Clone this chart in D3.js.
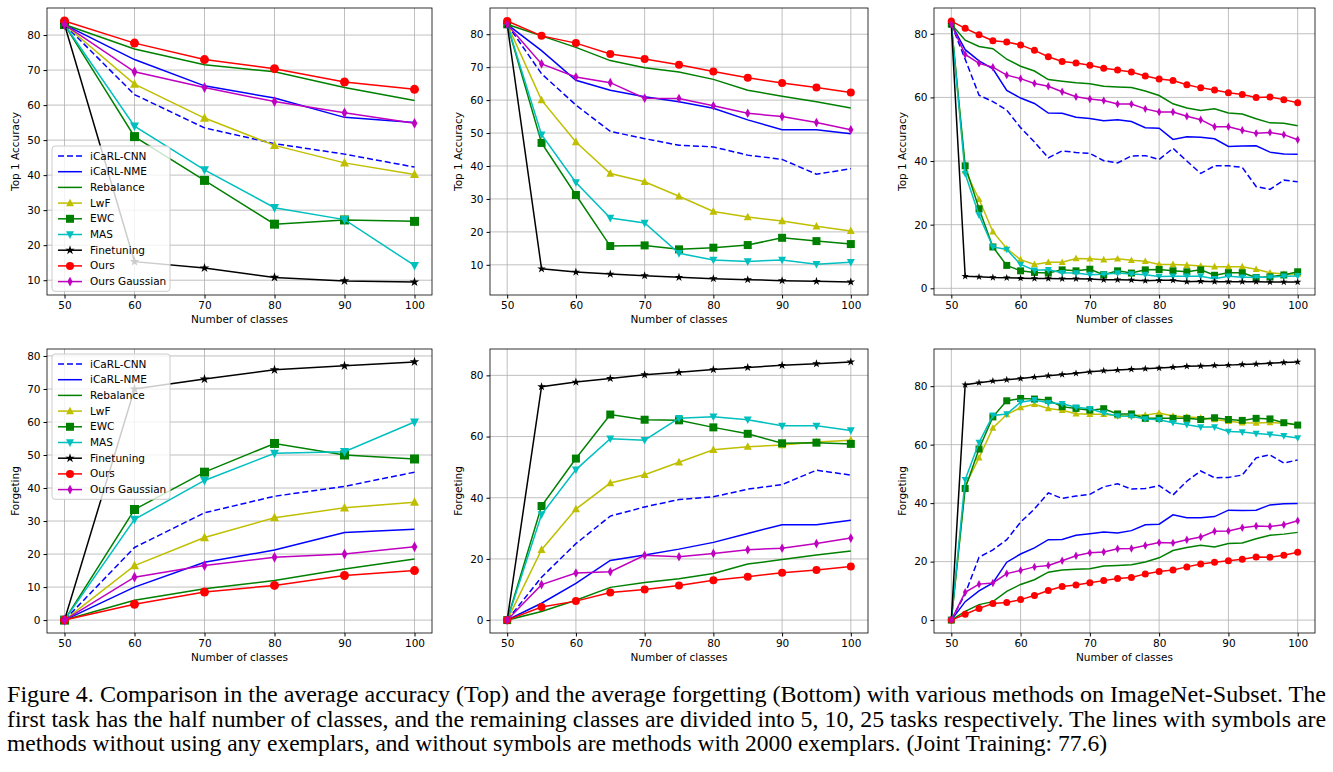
<!DOCTYPE html>
<html>
<head>
<meta charset="utf-8">
<script src="https://cdn.jsdelivr.net/npm/d3@7"></script>
<style>
body { margin: 0; background: #fff; }
text { font-family: "DejaVu Sans", sans-serif; }
.caption { font-family: "Liberation Serif", serif; font-size: 23px; }
</style>
</head>
<body>
<svg id="chart" width="1333" height="772"></svg>
<script>
// method names, in plotting order
const methods = ["iCaRL-CNN", "iCaRL-NME", "Rebalance", "LwF", "EWC", "MAS", "Finetuning", "Ours", "Ours Gaussian"];

const x5 = [50, 60, 70, 80, 90, 100];
const x10 = [50, 55, 60, 65, 70, 75, 80, 85, 90, 95, 100];
const x25 = d3.range(50, 101, 2);

// Top 1 accuracy, 5 tasks
const acc5 = [
  [83, 63, 53.5, 49, 46, 42.3],
  [83, 73, 65.5, 62, 56.5, 55],
  [83, 76, 71.5, 69.5, 65, 61.3],
  [83, 66, 56.3, 48.5, 43.5, 40.2],
  [83, 51, 38.5, 26, 27.2, 26.8],
  [83, 54, 41.5, 30.7, 27.3, 14.2],
  [83, 15.3, 13.5, 10.8, 9.8, 9.5],
  [84, 77.7, 73, 70.4, 66.6, 64.5],
  [83, 69.5, 65, 61, 57.8, 54.8]
];
// Top 1 accuracy, 10 tasks
const acc10 = [
  [83, 68, 58.5, 50.5, 48.3, 46.3, 45.8, 43.3, 42, 37.5, 39.2],
  [83, 75, 66, 63, 61, 59.5, 57.5, 54, 51, 51, 49.8],
  [83, 79.5, 76, 72, 69.8, 68.5, 66.3, 63, 61.2, 59.5, 57.6],
  [83, 60, 47.3, 37.7, 35.2, 30.8, 26.2, 24.5, 23.3, 21.7, 20.3],
  [83, 47, 31.2, 15.7, 15.9, 14.7, 15.2, 16, 18.2, 17.2, 16.3],
  [83, 49.5, 35, 24.2, 22.7, 13.5, 11.5, 11, 11.5, 10.2, 10.8],
  [83, 8.8, 7.8, 7.2, 6.7, 6.2, 5.8, 5.5, 5.2, 5, 4.8],
  [84, 79.5, 77.3, 74, 72.5, 70.7, 68.7, 66.8, 65.2, 63.8, 62.3],
  [83, 71, 67, 65.3, 60.6, 60.5, 58.3, 56, 55, 53.2, 51]
];
// Top 1 accuracy, 25 tasks
const acc25 = [
  [83, 72, 60.7, 58.7, 56, 50.5, 46, 41, 43.2, 42.7, 42.4, 40.1, 39.4, 41.6, 41.7, 40.5, 44, 40, 36.1, 38.5, 38.5, 38, 32, 31.1, 34, 33.5],
  [83, 75, 71.5, 69, 62.2, 59.8, 58.1, 55.1, 55, 53.8, 53.4, 52.7, 53, 52.4, 50.5, 50.3, 46.8, 47.6, 47.5, 47, 44.6, 44.7, 44.8, 42.8, 42.2, 42.1],
  [83, 78, 76, 75.3, 72, 69.8, 68.3, 65.6, 65.1, 64.6, 64.3, 63.5, 63.3, 63.1, 62, 60.6, 58, 56.7, 55.9, 56.4, 55.1, 54.8, 53.3, 52, 51.9, 51.1],
  [83, 37, 28, 17.8, 12.5, 9, 7.5, 8.2, 8.2, 9.4, 9.3, 9, 9.3, 8.8, 8.5, 7.5, 7.5, 7.3, 7, 6.8, 6.8, 6.8, 6, 4.9, 4.5, 4.5],
  [83, 38.5, 25, 13, 7.2, 5.5, 5, 4.8, 5.8, 5.5, 6, 4.3, 5.5, 4.8, 5.8, 5.9, 5.5, 5.2, 5.8, 4.1, 4.9, 4.9, 3.4, 3.6, 4.2, 5.2],
  [83, 36, 23, 13, 12.2, 7.5, 5.7, 5.8, 4.9, 4.8, 4.3, 4.4, 4.8, 4.5, 4.3, 3.7, 3.8, 3.8, 3.8, 3, 3.8, 3.5, 3.5, 3.5, 3.8, 3.9],
  [83, 3.8, 3.6, 3.4, 3.3, 3.2, 3.1, 3.1, 3, 3, 2.9, 2.7, 2.7, 2.6, 2.4, 2.5, 2.5, 2.1, 2.2, 2.1, 2.1, 2.1, 2.1, 2, 2, 2],
  [84, 81.7, 79.7, 77.8, 77.4, 76.5, 74.8, 72.8, 71.3, 70.8, 70.1, 69.2, 68.6, 68, 66.7, 65.8, 65.3, 64, 63, 62.3, 61.5, 60.9, 60, 60.1, 59.3, 58.3],
  [83, 73.5, 70.7, 69.5, 67, 65.9, 64.4, 63.5, 61.8, 60.2, 59.5, 59, 57.9, 57.9, 56.4, 55.4, 55.4, 54.1, 53, 50.8, 50.8, 49.7, 48.7, 49, 48.3, 46.7]
];
// Forgetting, 5 tasks
const fgt5 = [
  [0, 22, 32.5, 37.5, 40.5, 44.8],
  [0, 10, 17.5, 21.2, 26.5, 27.5],
  [0, 6, 9.5, 12, 15.5, 18.5],
  [0, 16.5, 25, 31, 34, 35.7],
  [0, 33.5, 44.8, 53.5, 50, 48.8],
  [0, 30.5, 42.3, 50.5, 51, 60],
  [0, 70, 73, 75.8, 77, 78.2],
  [0, 4.8, 8.5, 10.5, 13.5, 15],
  [0, 13, 16.5, 19, 20, 22.2]
];
// Forgetting, 10 tasks
const fgt10 = [
  [0, 14, 25, 34, 37, 39.4, 40.3, 42.8, 44.3, 49, 47.4],
  [0, 5.5, 12, 19.5, 21.3, 23.2, 25.4, 28.3, 31.2, 31.2, 32.6],
  [0, 2.8, 6.5, 10.7, 12.3, 13.5, 15.2, 18.3, 19.8, 21.3, 22.6],
  [0, 23, 36.3, 44.8, 47.5, 51.6, 55.7, 56.7, 57.2, 58.2, 58.8],
  [0, 37.3, 52.8, 67.2, 65.5, 65.3, 63, 60.9, 57.8, 58, 57.6],
  [0, 34.5, 49.2, 59.3, 58.8, 66, 66.5, 65.5, 63.5, 63.5, 62],
  [0, 76.3, 77.8, 79, 80.2, 81, 81.9, 82.6, 83.3, 83.8, 84.4],
  [0, 4.3, 6.2, 9, 10, 11.3, 13, 14.2, 15.5, 16.4, 17.5],
  [0, 11.6, 15.4, 15.8, 21.2, 20.7, 21.8, 23, 23.5, 25, 26.8]
];
// Forgetting, 25 tasks
const fgt25 = [
  [0, 9, 21.5, 24, 27.5, 33.5, 38, 43.5, 41.6, 42.4, 43, 45.6, 46.6, 44.8, 45, 46, 42.8, 47.5, 51, 48.7, 48.8, 49.6, 55.5, 56.5, 53.7, 54.8],
  [0, 6.3, 10, 12.7, 19.8, 22.6, 24.7, 27.5, 27.6, 29, 29.5, 30.1, 29.8, 30.6, 32.6, 32.8, 36, 35, 35, 35.4, 37.6, 37.5, 37.6, 39.4, 39.8, 39.9],
  [0, 3, 5.3, 6.3, 9.8, 12.2, 13.8, 16.4, 17.1, 17.4, 17.6, 18.5, 18.7, 18.9, 19.9, 21.3, 23.8, 24.8, 25.6, 25, 26.2, 26.4, 27.8, 29, 29.4, 30],
  [0, 46, 55.5, 65.7, 70.3, 72.7, 73.8, 72.4, 71.8, 70.6, 70.4, 70.4, 69.9, 70, 70.1, 70.8, 69.8, 69.5, 69.2, 68.6, 68, 67.5, 67.4, 67.6, 67.3, 66.8],
  [0, 45, 58.5, 69.5, 75, 75.8, 75.6, 75.2, 73, 72.4, 71.8, 72.3, 70.5, 70.5, 69, 69, 69, 69, 68.6, 69.2, 68.6, 68.3, 69, 68.8, 67.5, 66.7],
  [0, 48, 60.7, 70, 70.5, 74.5, 75.3, 74.3, 74, 72.8, 72.3, 70.8, 69.8, 69.7, 68.8, 68.5, 67.5, 66.8, 66, 66, 64.5, 64.3, 63.8, 63.5, 63, 62.3],
  [0, 80.5, 81.2, 81.8, 82.2, 82.6, 83.1, 83.6, 84, 84.4, 84.9, 85.3, 85.5, 85.8, 86, 86.2, 86.5, 86.8, 86.9, 87.1, 87.2, 87.4, 87.6, 87.8, 88.1, 88.3],
  [0, 2, 4, 5.7, 6, 7, 8.4, 10.1, 11.5, 12, 12.8, 13.5, 14.2, 14.6, 15.8, 16.6, 17.1, 18.2, 19.2, 19.8, 20.3, 20.8, 21.6, 21.5, 22.2, 23.2],
  [0, 9.5, 12.3, 12.7, 15.9, 17, 18.2, 18.7, 20.3, 22, 23, 23.3, 24.4, 24.5, 25.5, 26.5, 26.4, 27.5, 28.4, 30.4, 30.5, 31.6, 32.2, 32, 32.6, 34]
];

const captionLines = [
  "Figure 4. Comparison in the average accuracy (Top) and the average forgetting (Bottom) with various methods on ImageNet-Subset. The",
  "first task has the half number of classes, and the remaining classes are divided into 5, 10, 25 tasks respectively. The lines with symbols are",
  "methods without using any exemplars, and without symbols are methods with 2000 exemplars. (Joint Training: 77.6)"
];
const captionWidths = [1319, 1319, 1100];

const styles = [
  { color: "#0000ff", dash: "6,3", marker: null },
  { color: "#0000ff", dash: null, marker: null },
  { color: "#008000", dash: null, marker: null },
  { color: "#bfbf00", dash: null, marker: "triUp" },
  { color: "#008000", dash: null, marker: "square" },
  { color: "#00bfbf", dash: null, marker: "triDown" },
  { color: "#000000", dash: null, marker: "star" },
  { color: "#ff0000", dash: null, marker: "circle" },
  { color: "#bf00bf", dash: null, marker: "thinDiamond" }
];

const svg = d3.select("#chart");

function markerPath(type, s) {
  if (type === "circle") return d3.symbol(d3.symbolCircle, Math.PI * s * s)();
  if (type === "square") { return `M${-s},${-s}H${s}V${s}H${-s}Z`; }
  if (type === "triUp") return `M0,${-s * 1.1}L${s},${s * 0.8}L${-s},${s * 0.8}Z`;
  if (type === "triDown") return `M0,${s * 1.1}L${s},${-s * 0.8}L${-s},${-s * 0.8}Z`;
  if (type === "star") return d3.symbol(d3.symbolStar, s * s * 2.2)();
  if (type === "thinDiamond") return `M0,${-s * 1.2}L${s * 0.65},0L0,${s * 1.2}L${-s * 0.65},0Z`;
}

function drawPanel(p) {
  const xScale = d3.scaleLinear().domain([47.5, 102.5]).range([p.left, p.right]);
  const all = p.data.flat();
  const lo = d3.min(all), hi = d3.max(all), pad = (hi - lo) * 0.05;
  const yScale = d3.scaleLinear().domain([lo - pad, hi + pad]).range([p.bottom, p.top]);
  const g = svg.append("g");

  // grid
  const xt = [50, 60, 70, 80, 90, 100];
  const yt = d3.range(p.yStart, 81, p.yStep);
  g.selectAll(".gx").data(xt).join("line")
    .attr("x1", d => xScale(d)).attr("x2", d => xScale(d))
    .attr("y1", p.top).attr("y2", p.bottom)
    .attr("stroke", "#b0b0b0").attr("stroke-width", 0.8);
  g.selectAll(".gy").data(yt).join("line")
    .attr("x1", p.left).attr("x2", p.right)
    .attr("y1", d => yScale(d)).attr("y2", d => yScale(d))
    .attr("stroke", "#b0b0b0").attr("stroke-width", 0.8);

  const line = d3.line().x((d, i) => xScale(p.xs[i])).y(d => yScale(d));
  p.data.forEach((series, k) => {
    const st = styles[k];
    g.append("path").datum(series)
      .attr("d", line).attr("fill", "none")
      .attr("stroke", st.color).attr("stroke-width", 1.5)
      .attr("stroke-dasharray", st.dash);
    if (st.marker) {
      const s = st.marker === "star" ? p.ms * 0.8 : p.ms;
      g.selectAll(null).data(series).join("path")
        .attr("transform", (d, i) => `translate(${xScale(p.xs[i])},${yScale(d)})`)
        .attr("d", markerPath(st.marker, s))
        .attr("fill", st.color);
    }
  });

  // axes
  g.append("g").attr("transform", `translate(0,${p.bottom})`)
    .call(d3.axisBottom(xScale).tickValues(xt).tickSize(3.5).tickPadding(3))
    .call(a => a.select(".domain").remove())
    .selectAll("text").attr("font-size", 10.5).attr("fill", "#000");
  g.append("g").attr("transform", `translate(${p.left},0)`)
    .call(d3.axisLeft(yScale).tickValues(yt).tickSize(3.5).tickPadding(3))
    .call(a => a.select(".domain").remove())
    .selectAll("text").attr("font-size", 10.5).attr("fill", "#000");
  g.append("rect").attr("x", p.left).attr("y", p.top)
    .attr("width", p.right - p.left).attr("height", p.bottom - p.top)
    .attr("fill", "none").attr("stroke", "#000").attr("stroke-width", 0.8);

  g.append("text").attr("x", (p.left + p.right) / 2).attr("y", p.bottom + 28)
    .attr("text-anchor", "middle").attr("font-size", 10.5).text("Number of classes");
  g.append("text").attr("transform", `translate(${p.left - 28},${(p.top + p.bottom) / 2}) rotate(-90)`)
    .attr("text-anchor", "middle").attr("font-size", 10.5).text(p.ylabel);

  if (p.legend) {
    const lx = p.left + 5, ly = p.legendTop, rowH = 15.7;
    g.append("rect").attr("x", lx).attr("y", ly).attr("width", 118).attr("height", rowH * 9 + 4)
      .attr("rx", 3).attr("fill", "#fff").attr("fill-opacity", 0.8).attr("stroke", "#ccc");
    methods.forEach((m, k) => {
      const st = styles[k], yy = ly + 10 + k * rowH;
      g.append("line").attr("x1", lx + 6).attr("x2", lx + 30).attr("y1", yy).attr("y2", yy)
        .attr("stroke", st.color).attr("stroke-width", 1.5).attr("stroke-dasharray", st.dash);
      if (st.marker) g.append("path").attr("transform", `translate(${lx + 18},${yy})`)
        .attr("d", markerPath(st.marker, st.marker === "star" ? 3.5 : 4)).attr("fill", st.color);
      g.append("text").attr("x", lx + 38).attr("y", yy + 3.5).attr("font-size", 10.5).text(m);
    });
  }
}

const cols = [[47, 432], [490, 868], [934, 1315]];
const rows = [[8, 295], [349, 633]];
drawPanel({ left: cols[0][0], right: cols[0][1], top: rows[0][0], bottom: rows[0][1], xs: x5, data: acc5, ms: 4.5, yStart: 10, yStep: 10, ylabel: "Top 1 Accuracy", legend: true, legendTop: 146 });
drawPanel({ left: cols[1][0], right: cols[1][1], top: rows[0][0], bottom: rows[0][1], xs: x10, data: acc10, ms: 4, yStart: 10, yStep: 10, ylabel: "Top 1 Accuracy" });
drawPanel({ left: cols[2][0], right: cols[2][1], top: rows[0][0], bottom: rows[0][1], xs: x25, data: acc25, ms: 3.5, yStart: 0, yStep: 20, ylabel: "Top 1 Accuracy" });
drawPanel({ left: cols[0][0], right: cols[0][1], top: rows[1][0], bottom: rows[1][1], xs: x5, data: fgt5, ms: 4.5, yStart: 0, yStep: 10, ylabel: "Forgeting", legend: true, legendTop: 354 });
drawPanel({ left: cols[1][0], right: cols[1][1], top: rows[1][0], bottom: rows[1][1], xs: x10, data: fgt10, ms: 4, yStart: 0, yStep: 20, ylabel: "Forgeting" });
drawPanel({ left: cols[2][0], right: cols[2][1], top: rows[1][0], bottom: rows[1][1], xs: x25, data: fgt25, ms: 3.5, yStart: 0, yStep: 20, ylabel: "Forgeting" });

svg.selectAll(".caption").data(captionLines).join("text")
  .attr("class", "caption").attr("x", 7).attr("y", (d, i) => 702 + i * 24.5)
  .attr("textLength", (d, i) => captionWidths[i])
  .attr("lengthAdjust", "spacingAndGlyphs")
  .text(d => d);
</script>
</body>
</html>
